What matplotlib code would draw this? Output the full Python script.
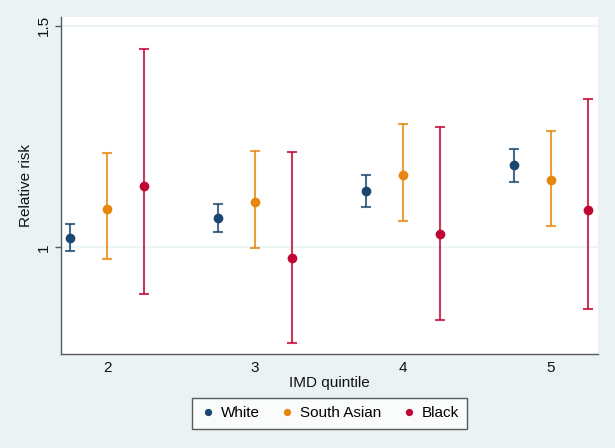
import matplotlib
matplotlib.use("Agg")
import matplotlib.pyplot as plt
import numpy as np

plt.rcParams['font.family'] = ['Liberation Sans', 'DejaVu Sans']

quintiles = [2, 3, 4, 5]
groups = ["White", "South Asian", "Black"]
colors = ["#1A476F", "#E8850C", "#C10534"]
offsets = [-0.25, 0.0, 0.25]

rr = {
    "White":       [1.022, 1.065, 1.126, 1.185],
    "South Asian": [1.087, 1.102, 1.164, 1.151],
    "Black":       [1.138, 0.975, 1.030, 1.084],
}
lower = {
    "White":       [0.991, 1.034, 1.091, 1.148],
    "South Asian": [0.974, 0.998, 1.059, 1.049],
    "Black":       [0.895, 0.783, 0.836, 0.861],
}
upper = {
    "White":       [1.053, 1.097, 1.163, 1.222],
    "South Asian": [1.213, 1.217, 1.279, 1.263],
    "Black":       [1.448, 1.214, 1.272, 1.335],
}

bg = "#EAF2F3"
fig = plt.figure(figsize=(6.15, 4.48), dpi=100, facecolor=bg)
ax = fig.add_axes([61/615, 1 - 354/448, (598 - 61)/615, (354 - 16.7)/448])
ax.set_facecolor("white")

for g, c, off in zip(groups, colors, offsets):
    x = np.array(quintiles) + off
    y = np.array(rr[g])
    lo = y - np.array(lower[g])
    hi = np.array(upper[g]) - y
    ax.errorbar(x, y, yerr=[lo, hi], fmt='none', ecolor=c, elinewidth=1.5,
                capsize=3.5, capthick=1.5, alpha=0.8, zorder=2)
    ax.plot(x, y, 'o', color=c, markersize=7, zorder=3, label=g,
            markeredgewidth=0)

ax.set_xlim(1.687, 5.318)
ax.set_ylim(0.759, 1.5205)
ax.set_xticks(quintiles)
ax.set_xticklabels([str(q) for q in quintiles])
ax.set_yticks([1, 1.5])
ax.set_yticklabels(["1", "1.5"], rotation=90, va='center')
ax.yaxis.grid(True, color=bg, linewidth=1.2, zorder=0)
ax.set_axisbelow(True)

for s in ["top", "right"]:
    ax.spines[s].set_visible(False)
for s in ["left", "bottom"]:
    ax.spines[s].set_color("#5a5a5a")
    ax.spines[s].set_linewidth(1.0)

ax.tick_params(axis='x', length=0, labelsize=11, pad=5, colors="#111111")
ax.tick_params(axis='y', length=4, width=1, color="#5a5a5a", labelsize=11,
               pad=3, labelcolor="#111111")

ax.set_xlabel("IMD quintile", fontsize=11, labelpad=1, color="#111111")
ax.set_ylabel("Relative risk", fontsize=11, labelpad=3, color="#111111")

leg = ax.legend(loc='upper center', bbox_to_anchor=(0.5, -0.13), ncol=3,
                frameon=True, fontsize=11, handletextpad=0.35,
                columnspacing=1.3, markerscale=0.75, fancybox=False,
                borderpad=0.55, handlelength=1.0, borderaxespad=0)
leg.get_frame().set_edgecolor("#333333")
leg.get_frame().set_linewidth(1.0)
leg.get_frame().set_facecolor("white")

fig.savefig("out.png", dpi=100, facecolor=bg)
